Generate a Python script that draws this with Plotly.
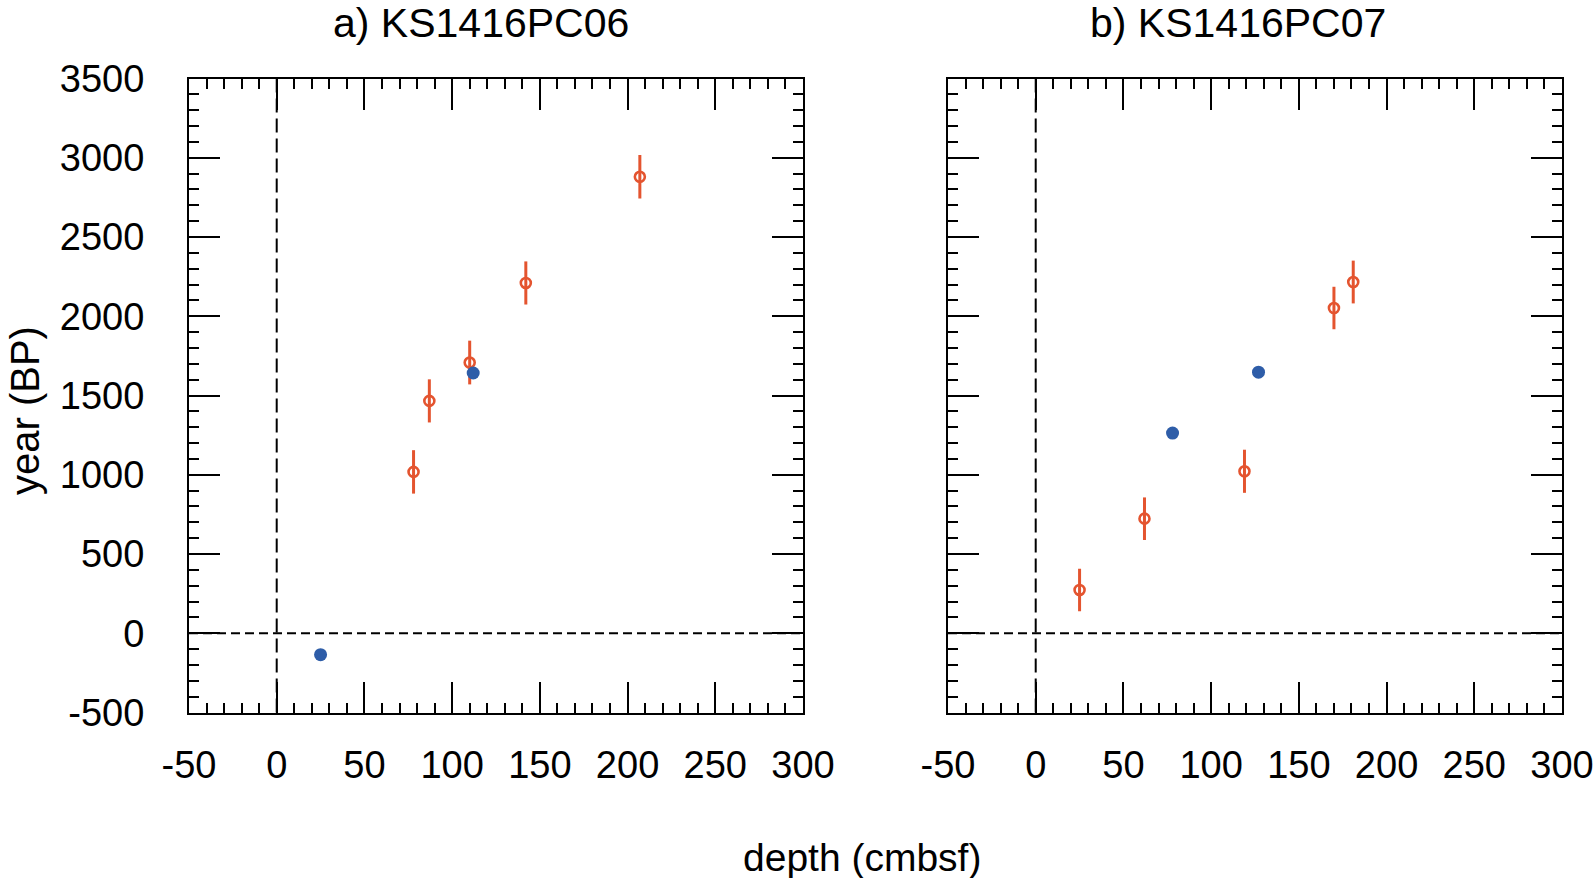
import plotly.graph_objects as go

# ---- data ----
a_c14_depth = [78, 87, 110, 142, 207]
a_c14_year = [1018, 1466, 1708, 2210, 2880]
a_c14_err = [137, 136, 138, 136, 137]
a_pb_depth = [25, 112]
a_pb_year = [-135, 1642]

b_c14_depth = [25, 62, 119, 170, 181]
b_c14_year = [273, 723, 1022, 2052, 2216]
b_c14_err = [134, 134, 136, 134, 135]
b_pb_depth = [78, 127]
b_pb_year = [1263, 1647]

titles = ["a) KS1416PC06", "b) KS1416PC07"]
x_label = "depth (cmbsf)"
y_label = "year (BP)"
x_range = [-50, 300]
y_range = [-500, 3500]
x_tickvals = [-50, 0, 50, 100, 150, 200, 250, 300]
x_ticktext = ["-50", "0", "50", "100", "150", "200", "250", "300"]
y_tickvals = [-500, 0, 500, 1000, 1500, 2000, 2500, 3000, 3500]
y_ticktext = ["-500", "0", "500", "1000", "1500", "2000", "2500", "3000", "3500"]

ORANGE = "#E4542F"
BLUE = "#2E5DA8"
FONT = "Liberation Sans, Arial, sans-serif"

W, H = 1594, 878


def px(x):
    return x / W


def py(y):
    return 1 - y / H


fig = go.Figure()


def add_panel(xa, ya, c_d, c_y, c_e, p_d, p_y):
    fig.add_trace(go.Scatter(
        x=c_d, y=c_y, mode="markers", xaxis=xa, yaxis=ya,
        error_y=dict(type="data", array=c_e, color=ORANGE, thickness=3, width=0),
        marker=dict(symbol="circle-open", size=10, color=ORANGE, line=dict(width=2.6, color=ORANGE)),
        showlegend=False, hoverinfo="x+y"))
    fig.add_trace(go.Scatter(
        x=p_d, y=p_y, mode="markers", xaxis=xa, yaxis=ya,
        marker=dict(symbol="circle", size=13, color=BLUE),
        showlegend=False, hoverinfo="x+y"))


add_panel("x", "y", a_c14_depth, a_c14_year, a_c14_err, a_pb_depth, a_pb_year)
add_panel("x2", "y2", b_c14_depth, b_c14_year, b_c14_err, b_pb_depth, b_pb_year)

ydom = [py(712.5), py(78.5)]
xdom_a = [px(189), px(803)]
xdom_b = [px(948), px(1562)]

common_x = dict(range=x_range, tickmode="array", tickvals=x_tickvals, ticktext=x_ticktext,
                ticks="inside", ticklen=31, tickwidth=2,
                tickcolor="black", showline=True, linecolor="black", linewidth=2,
                mirror="allticks", showgrid=False, zeroline=False, automargin=False,
                tickfont=dict(family=FONT, size=38, color="black"), ticklabelstandoff=18,
                minor=dict(ticks="inside", ticklen=10, tickwidth=2, tickcolor="black",
                           tick0=0, dtick=10, showgrid=False))
common_y = dict(range=y_range, tickmode="array", tickvals=y_tickvals, ticktext=y_ticktext,
                ticks="inside", ticklen=31, tickwidth=2,
                tickcolor="black", showline=True, linecolor="black", linewidth=2,
                mirror="allticks", showgrid=False, zeroline=False, automargin=False,
                tickfont=dict(family=FONT, size=38, color="black"), ticklabelstandoff=35,
                minor=dict(ticks="inside", ticklen=10, tickwidth=2, tickcolor="black",
                           tick0=0, dtick=100, showgrid=False))

fig.update_layout(
    width=W, height=H,
    margin=dict(l=0, r=0, t=0, b=0),
    paper_bgcolor="white", plot_bgcolor="white",
    template="none",
    xaxis=dict(domain=xdom_a, anchor="y", **common_x),
    yaxis=dict(domain=ydom, anchor="x", **common_y),
    xaxis2=dict(domain=xdom_b, anchor="y2", **common_x),
    yaxis2=dict(domain=ydom, anchor="x2", showticklabels=False, **common_y),
    font=dict(family=FONT, color="black"),
)

# dashed reference lines at zero
for xr, yr in [("x", "y"), ("x2", "y2")]:
    fig.add_shape(type="line", xref=xr, yref=yr + " domain", x0=0, x1=0, y0=0, y1=1,
                  line=dict(color="black", width=2, dash="14px,6px"), layer="below")
    fig.add_shape(type="line", xref=xr + " domain", yref=yr, x0=0, x1=1, y0=0, y1=0,
                  line=dict(color="black", width=2, dash="9px,5px"), layer="below")

# panel titles
fig.add_annotation(text=titles[0], x=px(481), y=py(23), xref="paper", yref="paper",
                   showarrow=False, font=dict(family=FONT, size=41, color="black"),
                   xanchor="center", yanchor="middle")
fig.add_annotation(text=titles[1], x=px(1238), y=py(23), xref="paper", yref="paper",
                   showarrow=False, font=dict(family=FONT, size=41, color="black"),
                   xanchor="center", yanchor="middle")
# axis labels
fig.add_annotation(text=x_label, x=px(862), y=py(857), xref="paper", yref="paper",
                   showarrow=False, font=dict(family=FONT, size=39, color="black"),
                   xanchor="center", yanchor="middle")
fig.add_annotation(text=y_label, x=px(25), y=py(411), xref="paper", yref="paper",
                   showarrow=False, textangle=-90, font=dict(family=FONT, size=40, color="black"),
                   xanchor="center", yanchor="middle")

fig.write_html("out.html",
               config={"displayModeBar": False},
               post_script="document.body.style.margin='0';document.body.style.overflow='hidden';")
